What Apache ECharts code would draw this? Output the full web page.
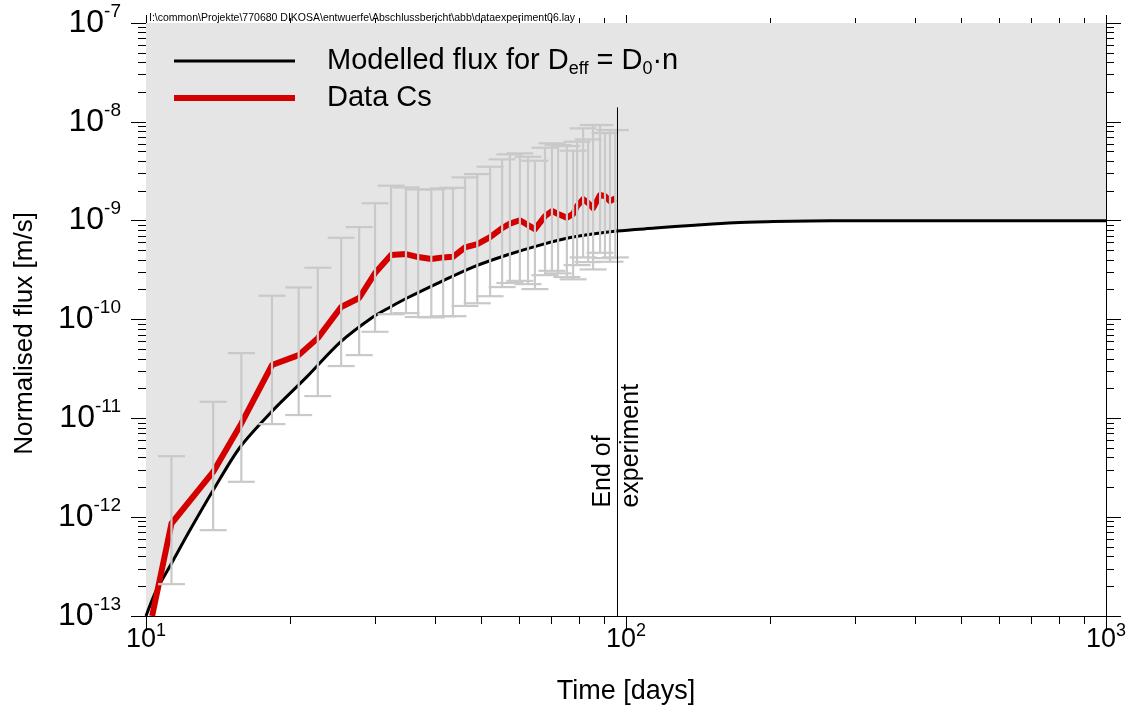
<!DOCTYPE html>
<html><head><meta charset="utf-8">
<script src="https://cdn.jsdelivr.net/npm/echarts@6/dist/echarts.min.js"></script>
<style>html,body{margin:0;padding:0;background:#fff}#c{width:1135px;height:713px}</style>
</head><body><div id="c"></div>
<script>
// ---------- data ----------
const modelName = 'Modelled flux for Deff = D0·n';
const dataName = 'Data Cs';
const modelDays = [10, 10.5, 11.3, 12.35, 13.8, 15.7, 18.4, 21.6, 25.4, 29.7, 32.3, 35.0, 41.0, 48.0, 56.5, 66.2, 77.6, 95.7, 115, 139, 168, 203, 241, 300, 400, 600, 1000];
const modelFlux = [1.0e-13, 1.8e-13, 3.4e-13, 7.4e-13, 1.87e-12, 5.1e-12, 1.21e-11, 2.61e-11, 5.9e-11, 1.06e-10, 1.34e-10, 1.65e-10, 2.39e-10, 3.39e-10, 4.49e-10, 5.66e-10, 6.82e-10, 7.85e-10, 8.41e-10, 9.0e-10, 9.55e-10, 9.8e-10, 9.95e-10, 1.0e-9, 1.0e-9, 1.0e-9, 1.0e-9];
const dataDays = [10.3, 11.3, 13.8, 15.8, 18.3, 20.8, 22.8, 25.5, 27.8, 30.0, 32.4, 34.8, 36.9, 39.3, 41.6, 43.6, 46.2, 49.0, 52.1, 55.2, 57.3, 60.1, 62.5, 64.6, 67.8, 70.1, 72.2, 75.3, 77.6, 79.1, 81.4, 83.4, 85.4, 88.3, 90.4, 92.6, 95.0];
const dataFlux = [1.0e-13, 8.63e-13, 2.87e-12, 8.88e-12, 3.46e-11, 4.36e-11, 6.48e-11, 1.34e-10, 1.65e-10, 2.95e-10, 4.49e-10, 4.59e-10, 4.28e-10, 4.09e-10, 4.25e-10, 4.31e-10, 5.37e-10, 5.80e-10, 6.82e-10, 8.42e-10, 9.35e-10, 1.01e-9, 9.03e-10, 8.22e-10, 1.11e-9, 1.25e-9, 1.17e-9, 1.07e-9, 1.17e-9, 1.41e-9, 1.65e-9, 1.51e-9, 1.34e-9, 1.82e-9, 1.77e-9, 1.58e-9, 1.68e-9];
const errHigh = [null, 4.14e-12, 1.47e-11, 4.57e-11, 1.74e-10, 2.11e-10, 3.34e-10, 6.71e-10, 8.61e-10, 1.50e-9, 2.26e-9, 2.17e-9, 2.07e-9, 2.07e-9, 2.12e-9, 2.15e-9, 2.74e-9, 2.96e-9, 3.51e-9, 4.17e-9, 4.69e-9, 4.80e-9, 4.43e-9, 4.04e-9, 5.47e-9, 6.06e-9, 5.82e-9, 5.69e-9, 5.10e-9, 6.29e-9, 8.59e-9, 6.65e-9, 9.28e-9, 9.28e-9, 7.70e-9, 8.26e-9, 8.26e-9];
const errLow = [null, 2.10e-13, 7.39e-13, 2.28e-12, 8.74e-12, 1.08e-11, 1.68e-11, 3.38e-11, 4.36e-11, 7.51e-11, 1.13e-10, 1.16e-10, 1.06e-10, 1.05e-10, 1.08e-10, 1.08e-10, 1.37e-10, 1.46e-10, 1.72e-10, 2.13e-10, 2.34e-10, 2.46e-10, 2.28e-10, 2.03e-10, 2.81e-10, 3.11e-10, 2.93e-10, 2.69e-10, 2.55e-10, 3.55e-10, 4.25e-10, 3.81e-10, 3.21e-10, 4.73e-10, 4.18e-10, 3.84e-10, 4.25e-10];
const endOfExperimentDay = 96;
const endLineFlux = [1.4e-8, 1e-13];
const endLabelFlux = 1.25e-12;
const endLabelText = 'End of\nexperiment';
const xMajorTicks = [10, 100, 1000];
const xMinorTicks = [20, 30, 40, 50, 60, 70, 80, 90, 200, 300, 400, 500, 600, 700, 800, 900];
const yDecades = [-13, -12, -11, -10, -9, -8, -7];
const yMajorTicks = yDecades.map(e => Math.pow(10, e));
const yMinorTicks = [];
yDecades.slice(0, -1).forEach(e => { for (let k = 2; k <= 9; k++) yMinorTicks.push(k * Math.pow(10, e)); });
const headerText = 'I:\\common\\Projekte\\770680 DIKOSA\\entwuerfe\\Abschlussbericht\\abb\\dataexperiment06.lay';
const xTitle = 'Time [days]';
const yTitle = 'Normalised flux [m/s]';

// ---------- chart ----------
const FONT = 'Liberation Sans';
const chart = echarts.init(document.getElementById('c'), null, {renderer: 'canvas'});
const powLabel = v => '{b|10}{s|' + Math.round(Math.log10(v)) + '}';
function richFor(base, sup) {
  return {
    b: {fontSize: base, fontFamily: FONT, color: '#000', lineHeight: Math.round(base * 1.3)},
    s: {fontSize: sup, fontFamily: FONT, color: '#000', lineHeight: sup + 1, verticalAlign: 'top'}
  };
}
const black = {color: '#000', width: 1};

function axisBase(extra) {
  return Object.assign({
    type: 'log', logBase: 10,
    splitLine: {show: false}, minorTick: {show: false}, minorSplitLine: {show: false},
    axisLine: {show: true, lineStyle: black},
    axisLabel: {show: false},
    axisPointer: {show: false}
  }, extra);
}
const xExt = {min: 10, max: 1000};
const yExt = {min: 1e-13, max: 1e-7};

const xAxes = [
  axisBase(Object.assign({}, xExt, {
    position: 'bottom',
    axisTick: {show: true, inside: false, length: 15, customValues: xMajorTicks, lineStyle: black},
    axisLabel: {show: true, customValues: xMajorTicks, margin: 6, formatter: powLabel, rich: richFor(27, 18)},
    name: xTitle, nameLocation: 'middle', nameGap: 62,
    nameTextStyle: {fontSize: 27, fontFamily: FONT, color: '#000'}
  })),
  axisBase(Object.assign({}, xExt, {position: 'bottom',
    axisTick: {show: true, inside: false, length: 8, customValues: xMinorTicks, lineStyle: black}})),
  axisBase(Object.assign({}, xExt, {position: 'top',
    axisTick: {show: true, inside: false, length: 8, customValues: xMajorTicks, lineStyle: black}})),
  axisBase(Object.assign({}, xExt, {position: 'top',
    axisTick: {show: true, inside: false, length: 5, customValues: xMinorTicks, lineStyle: black}}))
];
const yAxes = [
  axisBase(Object.assign({}, yExt, {
    position: 'left',
    axisTick: {show: true, inside: false, length: 15, customValues: yMajorTicks, lineStyle: black},
    axisLabel: {show: true, customValues: yMajorTicks, margin: 25, formatter: powLabel, rich: richFor(32, 19)},
    name: yTitle, nameLocation: 'middle', nameGap: 108, nameRotate: 90,
    nameTextStyle: {fontSize: 26, fontFamily: FONT, color: '#000', padding: [0, 28, 0, 0]}
  })),
  axisBase(Object.assign({}, yExt, {position: 'left',
    axisTick: {show: true, inside: false, length: 8, customValues: yMinorTicks, lineStyle: black}})),
  axisBase(Object.assign({}, yExt, {position: 'right',
    axisTick: {show: true, inside: false, length: 15, customValues: yMajorTicks, lineStyle: black}})),
  axisBase(Object.assign({}, yExt, {position: 'right',
    axisTick: {show: true, inside: false, length: 8, customValues: yMinorTicks, lineStyle: black}}))
];

const modelData = modelDays.map((d, i) => [d, modelFlux[i]]);
const redData = dataDays.map((d, i) => [d, dataFlux[i]]);
const errData = [];
dataDays.forEach((d, i) => { if (errLow[i] != null) errData.push([d, errLow[i], errHigh[i]]); });

const legendText = {fontSize: 29, fontFamily: FONT, color: '#000', padding: [0, 0, 0, 27], lineHeight: 34,
  rich: {sub: {fontSize: 18, fontFamily: FONT, color: '#000', lineHeight: 16, verticalAlign: 'bottom'}}};
const legendFormatter = n => n === modelName ? 'Modelled flux for D{sub|eff} = D{sub|0}·n' : n;

const option = {
  animation: false,
  backgroundColor: '#fff',
  textStyle: {fontFamily: FONT},
  title: {text: headerText, left: 144, top: 8,
    textStyle: {fontSize: 10.5, fontWeight: 'normal', color: '#000', fontFamily: FONT}},
  grid: {left: 146, right: 29, top: 23, bottom: 97, containLabel: false},
  xAxis: xAxes,
  yAxis: yAxes,
  legend: [
    {data: [{name: modelName, icon: 'rect'}], left: 174, top: 44, padding: 0,
      itemWidth: 121, itemHeight: 3, selectedMode: false,
      formatter: legendFormatter, textStyle: legendText},
    {data: [{name: dataName, icon: 'rect'}], left: 174, top: 81, padding: 0,
      itemWidth: 121, itemHeight: 6, selectedMode: false,
      formatter: legendFormatter, textStyle: legendText}
  ],
  series: [
    {
      name: modelName, type: 'line', data: modelData, symbol: 'none', smooth: 0.3,
      lineStyle: {color: '#000', width: 3}, itemStyle: {color: '#000'},
      areaStyle: {color: '#e5e5e5', opacity: 1, origin: 'end'}, z: 2
    },
    {
      name: dataName, type: 'line', data: redData, symbol: 'none',
      lineStyle: {color: '#d40000', width: 6, join: 'round'}, itemStyle: {color: '#d40000'}, z: 3
    },
    {
      name: 'errors', type: 'custom', data: errData, z: 4, silent: true,
      encode: {x: 0, y: [1, 2]},
      renderItem: (params, api) => {
        const x = api.value(0);
        const lo = api.coord([x, api.value(1)]);
        const hi = api.coord([x, api.value(2)]);
        const hw = 13.5;
        const st = {stroke: '#c9c9c9', lineWidth: 2.2, fill: null};
        return {type: 'group', children: [
          {type: 'line', shape: {x1: lo[0], y1: lo[1], x2: hi[0], y2: hi[1]}, style: st},
          {type: 'line', shape: {x1: lo[0] - hw, y1: lo[1], x2: lo[0] + hw, y2: lo[1]}, style: st},
          {type: 'line', shape: {x1: hi[0] - hw, y1: hi[1], x2: hi[0] + hw, y2: hi[1]}, style: st}
        ]};
      }
    },
    {
      name: 'end', type: 'line', silent: true, symbol: 'none', z: 5,
      data: endLineFlux.map(v => [endOfExperimentDay, v]),
      lineStyle: {color: '#000', width: 1},
      markPoint: {
        symbol: 'circle', symbolSize: 0, silent: true,
        data: [{coord: [endOfExperimentDay, endLabelFlux]}],
        label: {show: true, position: 'inside', formatter: endLabelText, rotate: 90,
          fontSize: 25, lineHeight: 28, color: '#000', fontFamily: FONT, align: 'left', verticalAlign: 'middle'}
      }
    }
  ]
};
chart.setOption(option);
</script>
</body></html>
